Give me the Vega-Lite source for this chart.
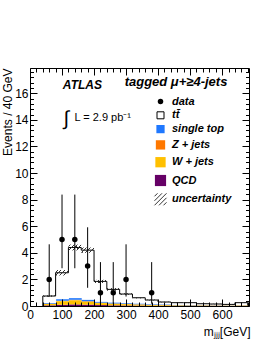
{
  "$schema": "https://vega.github.io/schema/vega-lite/v6.json",
  "autosize": {"type": "none"},
  "padding": {"left": 30, "top": 68, "right": 25, "bottom": 49},
  "width": 219,
  "height": 238,
  "background": "white",
  "config": {
    "font": "Liberation Sans",
    "view": {"stroke": "black", "strokeWidth": 1, "fill": "white"},
    "axis": {"labelFont": "Liberation Sans", "titleFont": "Liberation Sans", "labelColor": "black", "titleColor": "black", "tickColor": "black", "grid": false},
    "legend": {"padding": 0, "rowPadding": 1.8, "labelOffset": 5, "symbolOpacity": 1, "symbolStrokeWidth": 1,
      "labelFont": "Liberation Sans", "labelFontSize": 11, "labelFontWeight": "bold", "labelFontStyle": "italic", "labelColor": "black", "labelLimit": 200}
  },
  "datasets": {
    "bkg": [
      {"lo": 40, "hi": 80, "proc": "QCD", "n": 0.05}, {"lo": 40, "hi": 80, "proc": "Z + jets", "n": 0.02}, {"lo": 40, "hi": 80, "proc": "W + jets", "n": 0.1}, {"lo": 40, "hi": 80, "proc": "single top", "n": 0.05},
      {"lo": 80, "hi": 120, "proc": "QCD", "n": 0.1}, {"lo": 80, "hi": 120, "proc": "Z + jets", "n": 0.05}, {"lo": 80, "hi": 120, "proc": "W + jets", "n": 0.25}, {"lo": 80, "hi": 120, "proc": "single top", "n": 0.1},
      {"lo": 120, "hi": 160, "proc": "QCD", "n": 0.12}, {"lo": 120, "hi": 160, "proc": "Z + jets", "n": 0.05}, {"lo": 120, "hi": 160, "proc": "W + jets", "n": 0.3}, {"lo": 120, "hi": 160, "proc": "single top", "n": 0.12},
      {"lo": 160, "hi": 200, "proc": "QCD", "n": 0.1}, {"lo": 160, "hi": 200, "proc": "Z + jets", "n": 0.04}, {"lo": 160, "hi": 200, "proc": "W + jets", "n": 0.22}, {"lo": 160, "hi": 200, "proc": "single top", "n": 0.1},
      {"lo": 200, "hi": 240, "proc": "QCD", "n": 0.07}, {"lo": 200, "hi": 240, "proc": "Z + jets", "n": 0.03}, {"lo": 200, "hi": 240, "proc": "W + jets", "n": 0.15}, {"lo": 200, "hi": 240, "proc": "single top", "n": 0.06},
      {"lo": 240, "hi": 280, "proc": "QCD", "n": 0.05}, {"lo": 240, "hi": 280, "proc": "Z + jets", "n": 0.02}, {"lo": 240, "hi": 280, "proc": "W + jets", "n": 0.12}, {"lo": 240, "hi": 280, "proc": "single top", "n": 0.06},
      {"lo": 280, "hi": 320, "proc": "QCD", "n": 0.04}, {"lo": 280, "hi": 320, "proc": "Z + jets", "n": 0.02}, {"lo": 280, "hi": 320, "proc": "W + jets", "n": 0.1}, {"lo": 280, "hi": 320, "proc": "single top", "n": 0.05},
      {"lo": 320, "hi": 360, "proc": "QCD", "n": 0.03}, {"lo": 320, "hi": 360, "proc": "Z + jets", "n": 0.02}, {"lo": 320, "hi": 360, "proc": "W + jets", "n": 0.08}, {"lo": 320, "hi": 360, "proc": "single top", "n": 0.04},
      {"lo": 360, "hi": 400, "proc": "QCD", "n": 0.02}, {"lo": 360, "hi": 400, "proc": "Z + jets", "n": 0.01}, {"lo": 360, "hi": 400, "proc": "W + jets", "n": 0.06}, {"lo": 360, "hi": 400, "proc": "single top", "n": 0.04},
      {"lo": 400, "hi": 440, "proc": "QCD", "n": 0.02}, {"lo": 400, "hi": 440, "proc": "Z + jets", "n": 0.01}, {"lo": 400, "hi": 440, "proc": "W + jets", "n": 0.05}, {"lo": 400, "hi": 440, "proc": "single top", "n": 0.03},
      {"lo": 440, "hi": 480, "proc": "QCD", "n": 0.01}, {"lo": 440, "hi": 480, "proc": "Z + jets", "n": 0.01}, {"lo": 440, "hi": 480, "proc": "W + jets", "n": 0.04}, {"lo": 440, "hi": 480, "proc": "single top", "n": 0.02},
      {"lo": 480, "hi": 520, "proc": "QCD", "n": 0.01}, {"lo": 480, "hi": 520, "proc": "Z + jets", "n": 0.01}, {"lo": 480, "hi": 520, "proc": "W + jets", "n": 0.03}, {"lo": 480, "hi": 520, "proc": "single top", "n": 0.02},
      {"lo": 520, "hi": 560, "proc": "QCD", "n": 0.01}, {"lo": 520, "hi": 560, "proc": "Z + jets", "n": 0.005}, {"lo": 520, "hi": 560, "proc": "W + jets", "n": 0.03}, {"lo": 520, "hi": 560, "proc": "single top", "n": 0.01},
      {"lo": 560, "hi": 600, "proc": "QCD", "n": 0.01}, {"lo": 560, "hi": 600, "proc": "Z + jets", "n": 0.005}, {"lo": 560, "hi": 600, "proc": "W + jets", "n": 0.02}, {"lo": 560, "hi": 600, "proc": "single top", "n": 0.01},
      {"lo": 600, "hi": 640, "proc": "QCD", "n": 0.005}, {"lo": 600, "hi": 640, "proc": "Z + jets", "n": 0.005}, {"lo": 600, "hi": 640, "proc": "W + jets", "n": 0.02}, {"lo": 600, "hi": 640, "proc": "single top", "n": 0.01},
      {"lo": 640, "hi": 680, "proc": "QCD", "n": 0.01}, {"lo": 640, "hi": 680, "proc": "Z + jets", "n": 0.005}, {"lo": 640, "hi": 680, "proc": "W + jets", "n": 0.03}, {"lo": 640, "hi": 680, "proc": "single top", "n": 0.01}
    ],
    "outline": [
      {"m": 40, "tot": 0}, {"m": 40, "tot": 0.75}, {"m": 80, "tot": 2.5}, {"m": 120, "tot": 4.4}, {"m": 160, "tot": 4.2},
      {"m": 200, "tot": 1.85}, {"m": 240, "tot": 1.25}, {"m": 280, "tot": 0.9}, {"m": 320, "tot": 0.62}, {"m": 360, "tot": 0.45},
      {"m": 400, "tot": 0.3}, {"m": 440, "tot": 0.25}, {"m": 480, "tot": 0.25}, {"m": 520, "tot": 0.17}, {"m": 560, "tot": 0.15},
      {"m": 600, "tot": 0.12}, {"m": 640, "tot": 0.25}, {"m": 680, "tot": 0.25}, {"m": 680, "tot": 0}
    ],
    "band": [
      {"lo": 40, "hi": 80, "dn": 0.69, "up": 0.81}, {"lo": 80, "hi": 120, "dn": 2.3, "up": 2.7},
      {"lo": 120, "hi": 160, "dn": 4.18, "up": 4.62}, {"lo": 160, "hi": 200, "dn": 4.0, "up": 4.4},
      {"lo": 200, "hi": 240, "dn": 1.73, "up": 1.97}, {"lo": 240, "hi": 280, "dn": 1.15, "up": 1.35},
      {"lo": 280, "hi": 320, "dn": 0.83, "up": 0.97}, {"lo": 320, "hi": 360, "dn": 0.57, "up": 0.67},
      {"lo": 360, "hi": 400, "dn": 0.41, "up": 0.49}, {"lo": 400, "hi": 440, "dn": 0.27, "up": 0.33},
      {"lo": 440, "hi": 480, "dn": 0.22, "up": 0.28}, {"lo": 480, "hi": 520, "dn": 0.22, "up": 0.28},
      {"lo": 520, "hi": 560, "dn": 0.15, "up": 0.19}, {"lo": 560, "hi": 600, "dn": 0.13, "up": 0.17},
      {"lo": 600, "hi": 640, "dn": 0.1, "up": 0.14}, {"lo": 640, "hi": 680, "dn": 0.23, "up": 0.27}
    ],
    "pts": [
      {"m": 60, "n": 2, "lo": 0.71, "hi": 4.64}, {"m": 100, "n": 5, "lo": 2.84, "hi": 8.38},
      {"m": 140, "n": 5, "lo": 2.84, "hi": 8.38}, {"m": 180, "n": 3, "lo": 1.37, "hi": 5.92},
      {"m": 220, "n": 1, "lo": 0.17, "hi": 3.3}, {"m": 260, "n": 1, "lo": 0.17, "hi": 3.3},
      {"m": 300, "n": 2, "lo": 0.71, "hi": 4.64}, {"m": 380, "n": 1, "lo": 0.17, "hi": 3.3}
    ],
    "one": [{"k": 1}]
  },
  "resolve": {"axis": {"x": "independent", "y": "independent"}},
  "layer": [
    {
      "data": {"name": "outline"},
      "mark": {"type": "line", "interpolate": "step-after", "color": "black", "strokeWidth": 1},
      "encoding": {
        "x": {"field": "m", "type": "quantitative", "scale": {"domain": [0, 684], "nice": false, "zero": false},
          "axis": {"orient": "bottom", "values": [20,40,60,80,100,120,140,160,180,200,220,240,260,280,300,320,340,360,380,400,420,440,460,480,500,520,540,560,580,600,620,640,660,680], "labels": false, "domain": false, "ticks": true, "tickSize": 4, "offset": -4, "title": null, "zindex": 1}},
        "y": {"field": "tot", "type": "quantitative", "scale": {"domain": [0, 17.9], "nice": false, "zero": false},
          "axis": {"orient": "left", "values": [0.4,0.8,1.2,1.6,2,2.4,2.8,3.2,3.6,4,4.4,4.8,5.2,5.6,6,6.4,6.8,7.2,7.6,8,8.4,8.8,9.2,9.6,10,10.4,10.8,11.2,11.6,12,12.4,12.8,13.2,13.6,14,14.4,14.8,15.2,15.6,16,16.4,16.8,17.2,17.6], "labels": false, "domain": false, "ticks": true, "tickSize": 3.5, "offset": -3.5, "title": null, "zindex": 1}}
      }
    },
    {
      "data": {"name": "bkg"},
      "mark": {"type": "bar", "strokeWidth": 0, "binSpacing": 0},
      "encoding": {
        "x": {"field": "lo", "bin": "binned", "type": "quantitative", "scale": {"domain": [0, 684], "nice": false, "zero": false},
          "axis": {"orient": "bottom", "values": [0,100,200,300,400,500,600], "labels": true, "ticks": false, "domain": false, "labelFontSize": 12, "labelPadding": 3, "labelFlush": false, "format": "d",
            "title": "mⱼⱼⱼ[GeV]", "titleFontSize": 12, "titleFontWeight": "normal", "titleAlign": "right", "titleX": 220, "titleY": 25, "titleBaseline": "middle"}},
        "x2": {"field": "hi"},
        "y": {"field": "n", "type": "quantitative", "stack": "zero", "scale": {"domain": [0, 17.9], "nice": false, "zero": false},
          "axis": {"orient": "left", "values": [0,2,4,6,8,10,12,14,16], "labels": true, "ticks": false, "domain": false, "labelFontSize": 12, "labelPadding": 2,
            "title": "Events / 40 GeV", "titleFontSize": 12, "titleFontWeight": "normal", "titleAngle": -90, "titleAlign": "right", "titleBaseline": "middle", "titleX": -22.5, "titleY": 0}},
        "order": {"sort": "ascending"},
        "color": {"field": "proc", "type": "nominal",
          "scale": {"domain": ["data", "tt̄", "single top", "Z + jets", "W + jets", "QCD", "uncertainty"],
                    "range": ["black", "white", "#1f78ff", "#ff7800", "#ffc000", "#660066", "transparent"]},
          "legend": {"title": null, "orient": "none", "legendX": 124, "legendY": 28}}
      }
    },
    {
      "data": {"name": "bkg"},
      "mark": {"type": "point", "filled": true, "opacity": 0},
      "encoding": {
        "color": {"field": "proc", "type": "nominal",
          "scale": {"domain": ["data", "tt̄", "single top", "Z + jets", "W + jets", "QCD", "uncertainty"],
                    "range": ["black", "white", "#1f78ff", "#ff7800", "#ffc000", "#660066", "transparent"]},
          "legend": {"title": null, "orient": "none", "legendX": 124, "legendY": 28}},
        "shape": {"field": "proc", "type": "nominal",
          "scale": {"domain": ["data", "tt̄", "single top", "Z + jets", "W + jets", "QCD", "uncertainty"],
                    "range": ["circle", "square", "square", "square", "square", "square", "M-1,-0.5L-0.5,-1M-1,0.25L0.25,-1M-1,1L1,-1M-0.25,1L1,-0.25M0.5,1L1,0.5"]},
          "legend": {"title": null, "orient": "none", "legendX": 124, "legendY": 28}},
        "size": {"field": "proc", "type": "nominal",
          "scale": {"domain": ["data", "tt̄", "single top", "Z + jets", "W + jets", "QCD", "uncertainty"],
                    "range": [30, 144, 144, 144, 144, 144, 144]},
          "legend": {"title": null, "orient": "none", "legendX": 124, "legendY": 28}},
        "stroke": {"field": "proc", "type": "nominal",
          "scale": {"domain": ["data", "tt̄", "single top", "Z + jets", "W + jets", "QCD", "uncertainty"],
                    "range": ["transparent", "black", "transparent", "transparent", "transparent", "transparent", "#333333"]},
          "legend": {"title": null, "orient": "none", "legendX": 124, "legendY": 28}}
      }
    },
    {
      "data": {"name": "band"},
      "mark": {"type": "rect", "strokeWidth": 0, "fill": {"gradient": "linear", "x1": 0, "y1": 0, "x2": 1, "y2": 0.4, "stops": [
        {"offset": 0, "color": "rgba(255,255,255,0)"}, {"offset": 0.09, "color": "rgba(255,255,255,0)"}, {"offset": 0.09, "color": "#333"}, {"offset": 0.16, "color": "#333"}, {"offset": 0.16, "color": "rgba(255,255,255,0)"},
        {"offset": 0.34, "color": "rgba(255,255,255,0)"}, {"offset": 0.34, "color": "#333"}, {"offset": 0.41, "color": "#333"}, {"offset": 0.41, "color": "rgba(255,255,255,0)"},
        {"offset": 0.59, "color": "rgba(255,255,255,0)"}, {"offset": 0.59, "color": "#333"}, {"offset": 0.66, "color": "#333"}, {"offset": 0.66, "color": "rgba(255,255,255,0)"},
        {"offset": 0.84, "color": "rgba(255,255,255,0)"}, {"offset": 0.84, "color": "#333"}, {"offset": 0.91, "color": "#333"}, {"offset": 0.91, "color": "rgba(255,255,255,0)"}, {"offset": 1, "color": "rgba(255,255,255,0)"}]}},
      "encoding": {
        "x": {"field": "lo", "type": "quantitative", "scale": {"domain": [0, 684], "nice": false, "zero": false},
          "axis": {"orient": "bottom", "values": [0,100,200,300,400,500,600], "labels": false, "domain": false, "ticks": true, "tickSize": 7, "offset": -7, "title": null, "zindex": 1}},
        "x2": {"field": "hi"},
        "y": {"field": "dn", "type": "quantitative", "scale": {"domain": [0, 17.9], "nice": false, "zero": false},
          "axis": {"orient": "left", "values": [0,2,4,6,8,10,12,14,16], "labels": false, "domain": false, "ticks": true, "tickSize": 7, "offset": -7, "title": null, "zindex": 1}},
        "y2": {"field": "up"}
      }
    },
    {
      "data": {"name": "pts"},
      "mark": {"type": "rule", "color": "black", "strokeWidth": 1},
      "encoding": {
        "x": {"field": "m", "type": "quantitative", "scale": {"domain": [0, 684], "nice": false, "zero": false},
          "axis": {"orient": "top", "values": [0,100,200,300,400,500,600], "labels": false, "domain": false, "ticks": true, "tickSize": 7, "offset": -7, "title": null, "zindex": 1}},
        "y": {"field": "lo", "type": "quantitative", "scale": {"domain": [0, 17.9], "nice": false, "zero": false},
          "axis": {"orient": "right", "values": [0,2,4,6,8,10,12,14,16], "labels": false, "domain": false, "ticks": true, "tickSize": 7, "offset": -7, "title": null, "zindex": 1}},
        "y2": {"field": "hi"}
      }
    },
    {
      "data": {"name": "pts"},
      "mark": {"type": "circle", "color": "black", "opacity": 1, "size": 30},
      "encoding": {
        "x": {"field": "m", "type": "quantitative", "scale": {"domain": [0, 684], "nice": false, "zero": false},
          "axis": {"orient": "top", "values": [20,40,60,80,100,120,140,160,180,200,220,240,260,280,300,320,340,360,380,400,420,440,460,480,500,520,540,560,580,600,620,640,660,680], "labels": false, "domain": false, "ticks": true, "tickSize": 4, "offset": -4, "title": null, "zindex": 1}},
        "y": {"field": "n", "type": "quantitative", "scale": {"domain": [0, 17.9], "nice": false, "zero": false},
          "axis": {"orient": "right", "values": [0.4,0.8,1.2,1.6,2,2.4,2.8,3.2,3.6,4,4.4,4.8,5.2,5.6,6,6.4,6.8,7.2,7.6,8,8.4,8.8,9.2,9.6,10,10.4,10.8,11.2,11.6,12,12.4,12.8,13.2,13.6,14,14.4,14.8,15.2,15.6,16,16.4,16.8,17.2,17.6], "labels": false, "domain": false, "ticks": true, "tickSize": 3.5, "offset": -3.5, "title": null, "zindex": 1}}
      }
    },
    {
      "data": {"name": "one"},
      "mark": {"type": "text", "text": "ATLAS", "font": "Liberation Sans", "fontSize": 12, "fontWeight": "bold", "fontStyle": "italic", "align": "left", "baseline": "middle", "color": "black"},
      "encoding": {
        "x": {"datum": 102.6, "type": "quantitative", "scale": {"domain": [0, 684], "nice": false, "zero": false}, "axis": null},
        "y": {"datum": 16.65, "type": "quantitative", "scale": {"domain": [0, 17.9], "nice": false, "zero": false}, "axis": null}
      }
    },
    {
      "data": {"name": "one"},
      "mark": {"type": "text", "text": "tagged μ+≥4-jets", "font": "Liberation Sans", "fontSize": 13, "fontWeight": "bold", "fontStyle": "italic", "align": "left", "baseline": "middle", "color": "black"},
      "encoding": {
        "x": {"datum": 295.6, "type": "quantitative", "scale": {"domain": [0, 684], "nice": false, "zero": false}, "axis": null},
        "y": {"datum": 16.85, "type": "quantitative", "scale": {"domain": [0, 17.9], "nice": false, "zero": false}, "axis": null}
      }
    },
    {
      "data": {"name": "one"},
      "mark": {"type": "text", "text": "∫", "font": "Liberation Sans", "fontSize": 20, "align": "center", "baseline": "middle", "color": "black"},
      "encoding": {
        "x": {"datum": 113, "type": "quantitative", "scale": {"domain": [0, 684], "nice": false, "zero": false}, "axis": null},
        "y": {"datum": 14.1, "type": "quantitative", "scale": {"domain": [0, 17.9], "nice": false, "zero": false}, "axis": null}
      }
    },
    {
      "data": {"name": "one"},
      "mark": {"type": "text", "text": "L = 2.9 pb⁻¹", "font": "Liberation Sans", "fontSize": 11, "align": "left", "baseline": "middle", "color": "black"},
      "encoding": {
        "x": {"datum": 139, "type": "quantitative", "scale": {"domain": [0, 684], "nice": false, "zero": false}, "axis": null},
        "y": {"datum": 14.15, "type": "quantitative", "scale": {"domain": [0, 17.9], "nice": false, "zero": false}, "axis": null}
      }
    }
  ]
}
